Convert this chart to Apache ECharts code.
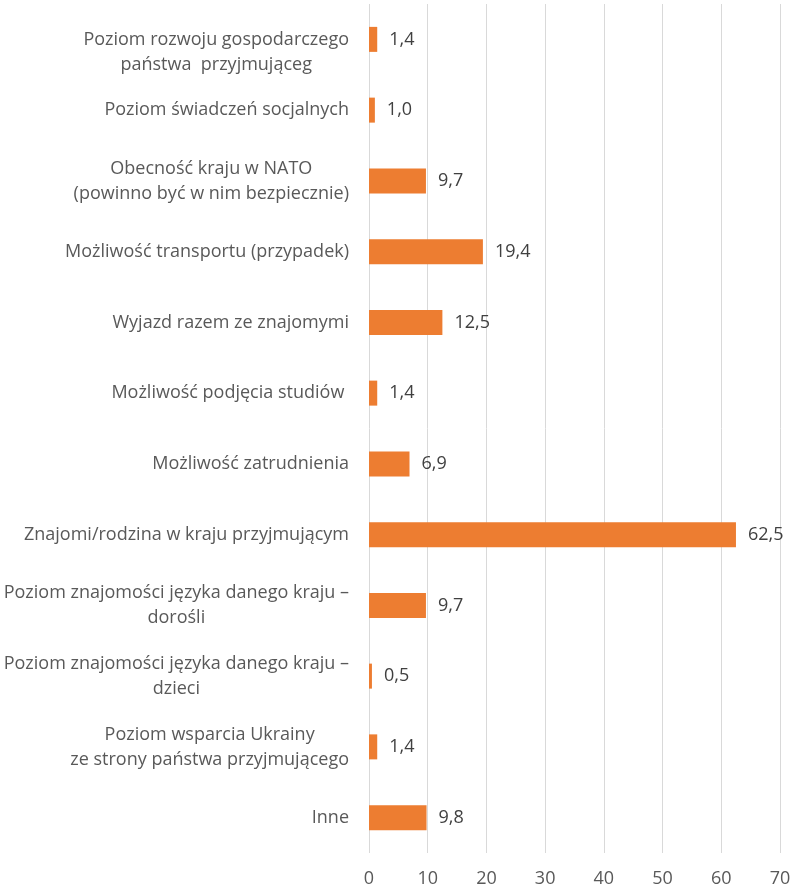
<!DOCTYPE html>
<html>
<head>
<meta charset="utf-8">
<script src="https://cdn.jsdelivr.net/npm/echarts@6/dist/echarts.min.js"></script>
<style>
  html, body { margin: 0; padding: 0; background: #fff; }
  #chart { width: 794px; height: 892px; }
</style>
</head>
<body>
<div id="chart"></div>
<script>
// categories, top to bottom
var categories = [
    'Poziom rozwoju gospodarczego\npaństwa  przyjmująceg',
    'Poziom świadczeń socjalnych',
    'Obecność kraju w NATO\n(powinno być w nim bezpiecznie)',
    'Możliwość transportu (przypadek)',
    'Wyjazd razem ze znajomymi',
    'Możliwość podjęcia studiów ',
    'Możliwość zatrudnienia',
    'Znajomi/rodzina w kraju przyjmującym',
    'Poziom znajomości języka danego kraju –\ndorośli',
    'Poziom znajomości języka danego kraju –\ndzieci',
    'Poziom wsparcia Ukrainy\nze strony państwa przyjmującego',
    'Inne'
];
var values = [1.4, 1.0, 9.7, 19.4, 12.5, 1.4, 6.9, 62.5, 9.7, 0.5, 1.4, 9.8];
var xTicks = [0, 10, 20, 30, 40, 50, 60, 70];

var textColor = '#595959';
var fontFamily = '"Open Sans", "Liberation Sans", sans-serif';
var fontSize = 18;

var chartDom = document.getElementById('chart');
var myChart = echarts.init(chartDom);
var option;

option = {
    animation: false,
    grid: {
        left: 369,
        right: 14,
        top: 4,
        bottom: 39,
        containLabel: false
    },
    xAxis: {
        type: 'value',
        min: xTicks[0],
        max: xTicks[xTicks.length - 1],
        interval: 10,
        axisLine: { show: false },
        axisTick: { show: false },
        splitLine: { lineStyle: { color: '#d9d9d9', width: 1 } },
        axisLabel: {
            color: textColor,
            fontSize: fontSize,
            fontFamily: fontFamily,
            margin: 17
        }
    },
    yAxis: {
        type: 'category',
        inverse: true,
        data: categories,
        axisLine: { show: false },
        axisTick: { show: false },
        axisLabel: {
            margin: 20,
            color: textColor,
            fontSize: fontSize,
            fontFamily: fontFamily,
            lineHeight: 25,
            formatter: function (v, idx) {
                var lines = v.split('\n').map(function (l) { return '{c|' + l + '}'; });
                // top label sits with its first line on the bar (as in the original)
                if (idx === 0) lines.unshift('{c| }');
                return lines.join('\n');
            },
            rich: {
                c: {
                    align: 'center',
                    color: textColor,
                    fontSize: fontSize,
                    fontFamily: fontFamily,
                    lineHeight: 25
                }
            }
        }
    },
    series: [{
        type: 'bar',
        data: values,
        barWidth: 25,
        itemStyle: { color: '#ed7d31' },
        label: {
            show: true,
            position: 'right',
            distance: 12,
            color: '#404040',
            fontSize: fontSize,
            fontFamily: fontFamily,
            formatter: function (p) {
                return p.value.toFixed(1).replace('.', ',');
            }
        }
    }]
};

option && myChart.setOption(option);
</script>
</body>
</html>
